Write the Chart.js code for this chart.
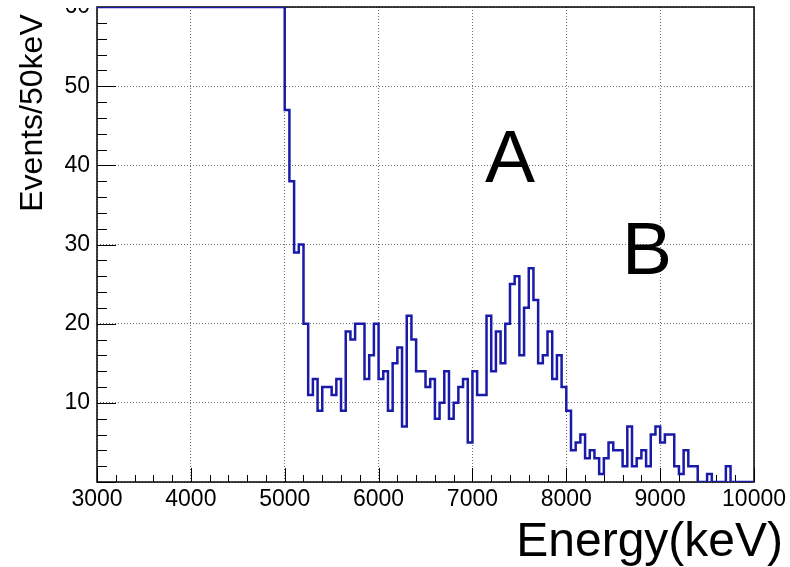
<!DOCTYPE html>
<html>
<head>
<meta charset="utf-8">
<script src="https://cdn.jsdelivr.net/npm/chart.js@4"></script>
<style>
  html, body { margin: 0; padding: 0; background: #fff; overflow: hidden; }
  /* top of the frame is cut off in the original, so the canvas is shifted up a bit */
  #wrap { position: absolute; left: 0; top: -20px; width: 790px; height: 600px; }
</style>
</head>
<body>
<div id="wrap"><canvas id="histChart" width="790" height="600"></canvas></div>
<script>
// ── Data (Events / 50 keV) ────────────────────────────────────
const binStart = 3000;
const binWidth = 50;

// 3000–4950 keV: off scale (drawn at the top of the frame)
const counts3000 = [60, 60, 60, 60, 60, 60, 60, 60, 60, 60, 60, 60, 60, 60, 60, 60, 60, 60, 60, 60];
const counts4000 = [60, 60, 60, 60, 60, 60, 60, 60, 60, 60, 60, 60, 60, 60, 60, 60, 60, 60, 60, 60];
const counts5000 = [47, 38, 29, 30, 20, 11, 13, 9, 12, 12, 11, 13, 9, 19, 18, 20, 20, 13, 16, 20];
const counts6000 = [13, 14, 9, 15, 17, 7, 21, 18, 14, 14, 12, 13, 8, 10, 14, 8, 10, 12, 13, 5];
const counts7000 = [14, 11, 11, 21, 14, 19, 15, 20, 25, 26, 16, 22, 27, 23, 15, 16, 19, 13, 16, 12];
const counts8000 = [9, 4, 5, 6, 3, 4, 3, 1, 3, 5, 4, 4, 2, 7, 2, 3, 4, 2, 6, 7];
const counts9000 = [5, 6, 6, 2, 1, 4, 2, 2, 0, 0, 1, 0, 0, 0, 2, 0, 0, 0, 0, 0];

const xTicks = [3000, 4000, 5000, 6000, 7000, 8000, 9000, 10000];
const yTicks = [0, 10, 20, 30, 40, 50, 60];

const counts = [].concat(counts3000, counts4000, counts5000, counts6000, counts7000, counts8000, counts9000);

// bin left edges + closing right edge, drawn as steps
const histPoints = counts.map((c, i) => ({ x: binStart + i * binWidth, y: c }));
histPoints.push({ x: binStart + counts.length * binWidth, y: counts[counts.length - 1] });

const Y_SHIFT = 20;
const FONT = '"Liberation Sans", Arial, Helvetica, sans-serif';

// ── ROOT-like frame, inner ticks, labels ──────────────────────
const rootStyle = {
    id: 'rootStyle',
    beforeDatasetsDraw(chart) {
        const { ctx, chartArea: a, scales: { x, y } } = chart;
        ctx.save();
        ctx.strokeStyle = '#000';
        ctx.lineWidth = 1;

        // x ticks (major 1000, minor 200)
        for (let v = 3000; v <= 10000; v += 200) {
            const px = Math.round(x.getPixelForValue(v)) + 0.5;
            const len = v % 1000 === 0 ? 14 : 7;
            ctx.beginPath();
            ctx.moveTo(px, a.bottom);
            ctx.lineTo(px, a.bottom - len);
            ctx.stroke();
        }
        // y ticks (major 10, minor 2)
        for (let v = 0; v <= 60; v += 2) {
            const py = Math.round(y.getPixelForValue(v)) + 0.5;
            const len = v % 10 === 0 ? 19 : 10;
            ctx.beginPath();
            ctx.moveTo(a.left, py);
            ctx.lineTo(a.left + len, py);
            ctx.stroke();
        }

        ctx.lineWidth = 1.5;
        ctx.strokeRect(a.left, a.top, a.right - a.left, a.bottom - a.top);
        ctx.restore();
    },
    afterDraw(chart) {
        const { ctx, chartArea: a } = chart;
        ctx.save();

        // the original is cropped just above the frame: hide the upper half of "60"
        ctx.fillStyle = '#fff';
        ctx.fillRect(0, 0, a.left - 2, a.top + 1);

        ctx.fillStyle = '#000';
        ctx.font = '48px ' + FONT;
        ctx.textAlign = 'right';
        ctx.textBaseline = 'alphabetic';
        ctx.fillText('Energy(keV)', 783, 556 + Y_SHIFT);

        ctx.save();
        ctx.translate(42, 113 + Y_SHIFT);
        ctx.rotate(-Math.PI / 2);
        ctx.font = '32px ' + FONT;
        ctx.textAlign = 'center';
        ctx.fillText('Events/50keV', 0, 0);
        ctx.restore();

        ctx.font = '75px ' + FONT;
        ctx.textAlign = 'center';
        ctx.fillText('A', 510, 182 + Y_SHIFT);
        ctx.fillText('B', 647, 274 + Y_SHIFT);
        ctx.restore();
    },
};

// ── Chart ─────────────────────────────────────────────────────
const ctx = document.getElementById('histChart').getContext('2d');
new Chart(ctx, {
    type: 'line',
    data: {
        datasets: [{
            data: histPoints,
            stepped: 'before',
            borderColor: '#1a1aa8',
            borderWidth: 2.5,
            pointRadius: 0,
            fill: false,
        }],
    },
    options: {
        responsive: false,
        animation: false,
        devicePixelRatio: 1,
        layout: { padding: { top: 27, right: 35, left: 0, bottom: 0 } },
        plugins: { legend: { display: false }, tooltip: { enabled: false } },
        scales: {
            x: {
                type: 'linear',
                min: 3000,
                max: 10000,
                afterBuildTicks: s => { s.ticks = xTicks.map(v => ({ value: v })); },
                afterFit: s => { s.height = 98; },
                ticks: {
                    color: '#000',
                    font: { family: FONT, size: 23 },
                    padding: 4,
                    maxRotation: 0,
                    autoSkip: false,
                    callback: v => String(v),
                },
                grid: { color: '#707070', lineWidth: 1, drawTicks: false },
                border: { display: false, dash: [1, 2] },
            },
            y: {
                min: 0,
                max: 60,
                afterBuildTicks: s => { s.ticks = yTicks.map(v => ({ value: v })); },
                afterFit: s => { s.width = 97; },
                ticks: {
                    color: '#000',
                    font: { family: FONT, size: 23 },
                    padding: 7,
                    callback: v => (v === 0 ? '' : String(v)),
                },
                grid: { color: '#707070', lineWidth: 1, drawTicks: false },
                border: { display: false, dash: [1, 2] },
            },
        },
    },
    plugins: [rootStyle],
});
</script>
</body>
</html>
